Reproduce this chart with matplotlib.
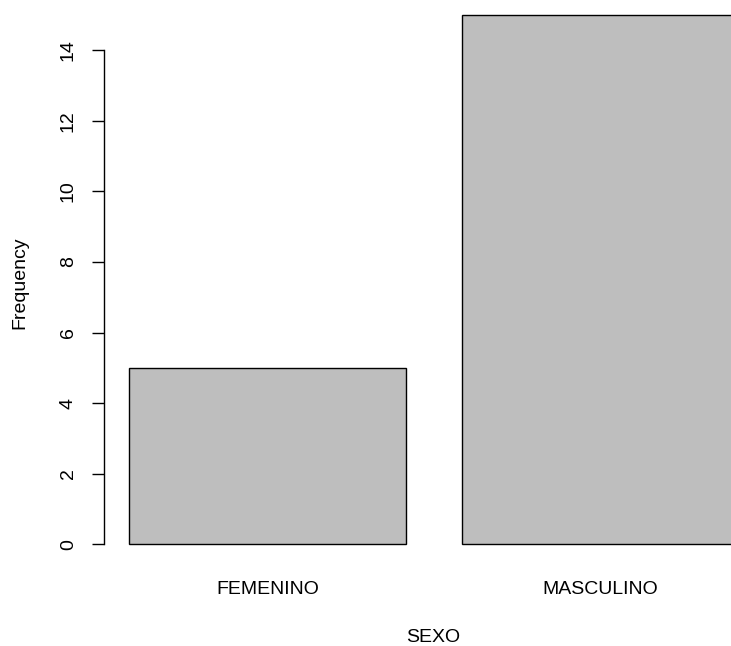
import matplotlib.pyplot as plt

plt.rcParams['font.family'] = ['Liberation Sans', 'DejaVu Sans']

categorias = ["FEMENINO", "MASCULINO"]
frecuencias = [5, 15]
yticks = [0, 2, 4, 6, 8, 10, 12, 14]

# barplot style: width 1, space 0.2
left = [0.2, 1.4]
centros = [l + 0.5 for l in left]

fig = plt.figure(figsize=(7.31, 6.46), dpi=100)
ax = fig.add_axes([0.1424, 0.1246, 0.8576, 0.8754])

ax.bar(left, frecuencias, width=1.0, align="edge", color="#bebebe",
       edgecolor="black", linewidth=1.0)

ax.set_xlim(0.112, 2.3695)
ax.set_ylim(-0.6, 15.425)

for s in ["top", "right", "bottom"]:
    ax.spines[s].set_visible(False)
ax.spines["left"].set_bounds(0, 14)
ax.spines["left"].set_linewidth(1.0)

ax.set_yticks(yticks)
ax.set_yticklabels([str(t) for t in yticks], rotation=90, va="center")
ax.tick_params(axis="y", length=8.6, width=1.0, pad=11, labelsize=14)

ax.set_xticks(centros)
ax.set_xticklabels(categorias)
ax.tick_params(axis="x", length=0, pad=11, labelsize=14)

# xlabel centred on the full plot region (which runs past the right edge)
fig.text(433.5 / 731, 1 - 637 / 646, "SEXO", ha="center", va="center", fontsize=14)
fig.text(20 / 731, 1 - 283 / 646, "Frequency", ha="center", va="center",
         rotation=90, fontsize=14)

fig.savefig("out.png", dpi=100)
